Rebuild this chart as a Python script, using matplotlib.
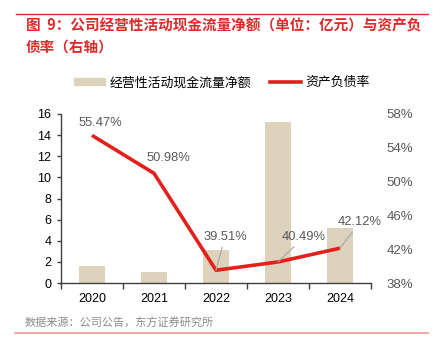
import matplotlib
matplotlib.use('Agg')
import numpy as np
from matplotlib import pyplot as plt
from matplotlib.lines import Line2D

plt.rcParams['font.family'] = ['Liberation Sans', 'Noto Sans CJK SC']
plt.rcParams['axes.unicode_minus'] = False

years = ['2020', '2021', '2022', '2023', '2024']
cash_flow = [1.64, 1.07, 3.15, 15.25, 5.18]          # 亿元
debt_ratio = [55.47, 50.98, 39.51, 40.49, 42.12]     # %
label_offsets = [(8, 12), (14, 15), (9, 33), (26, 25), (20, 26)]  # pixels
leader = [False, False, True, True, True]

bar_color = '#DDD3BC'
line_color = '#E3201C'
text_gray = '#595959'

fig = plt.figure(figsize=(4.33, 3.47), dpi=100)
ax = fig.add_axes([61 / 433, 1 - 283 / 347, 310 / 433, 169 / 347])
ax2 = ax.twinx()

x = np.arange(len(years))
ax.bar(x, cash_flow, width=0.42, color=bar_color, zorder=2)
ax.set_xlim(-0.5, 4.5)
ax.set_ylim(0, 16)
ax.set_yticks(np.arange(0, 17, 2))
ax.set_xticks(np.arange(-0.5, 5, 1))
ax.set_xticks(x, minor=True)
ax.set_xticklabels([])
ax.set_xticklabels(years, minor=True)
ax.tick_params(axis='x', which='major', length=4, width=1, color='#404040', direction='out')
ax.tick_params(axis='x', which='minor', length=0, pad=7, labelsize=9, labelcolor='black')
ax.tick_params(axis='y', length=3, width=1, color='#404040', pad=4, labelsize=9, labelcolor='black')
for side in ['top', 'right']:
    ax.spines[side].set_visible(False)
for side in ['left', 'bottom']:
    ax.spines[side].set_color('#404040')
    ax.spines[side].set_linewidth(1)

ax2.plot(x, debt_ratio, color=line_color, lw=2.6, solid_capstyle='butt', zorder=3)
ax2.set_ylim(38, 58)
ax2.set_yticks(np.arange(38, 59, 4))
ax2.set_yticklabels([f'{v}%' for v in range(38, 59, 4)])
ax2.tick_params(axis='y', length=0, pad=11, labelsize=9.5, labelcolor=text_gray)
for side in ['top', 'right', 'left', 'bottom']:
    ax2.spines[side].set_visible(False)

for xi, v, off, ld in zip(x, debt_ratio, label_offsets, leader):
    props = dict(arrowstyle='-', color='#A6A6A6', lw=0.8, shrinkA=1, shrinkB=0) if ld else None
    ax2.annotate(f'{v:.2f}%', xy=(xi, v), xytext=off, textcoords='offset pixels',
                 ha='center', va='center', fontsize=9.3, color=text_gray,
                 arrowprops=props, zorder=4)

# legend
handles = [plt.Rectangle((0, 0), 1, 1, color=bar_color),
           Line2D([0], [0], color=line_color, lw=2.6)]
fig.legend(handles, ['经营性活动现金流量净额', '资产负债率'], loc='center',
           bbox_to_anchor=(222 / 433, 1 - 83 / 347), ncol=2, frameon=False,
           fontsize=9.3, handlelength=2.4, handleheight=0.5, handletextpad=0.3,
           columnspacing=1.5)

# title, source and rules
title_color = '#E02A2A'
fig.add_artist(Line2D([16 / 433, 428 / 433], [1 - 14 / 347] * 2, color=title_color, lw=1))
fig.text(26 / 433, 1 - 25 / 347, '图  9：公司经营性活动现金流量净额（单位：亿元）与资产负',
         ha='left', va='center', fontsize=10.5, color=title_color, fontweight='bold',
         family='Noto Sans CJK SC')
fig.text(26 / 433, 1 - 47 / 347, '债率（右轴）', ha='left', va='center',
         fontsize=10.5, color=title_color, fontweight='bold', family='Noto Sans CJK SC')
fig.text(25 / 433, 1 - 323 / 347, '数据来源：公司公告，东方证券研究所', ha='left', va='center',
         fontsize=8, color='#8C8C8C', family='Noto Sans CJK SC')
fig.add_artist(Line2D([15 / 433, 428 / 433], [1 - 333 / 347] * 2, color='#F09A94', lw=1.2))

fig.savefig('out.png', dpi=100)
